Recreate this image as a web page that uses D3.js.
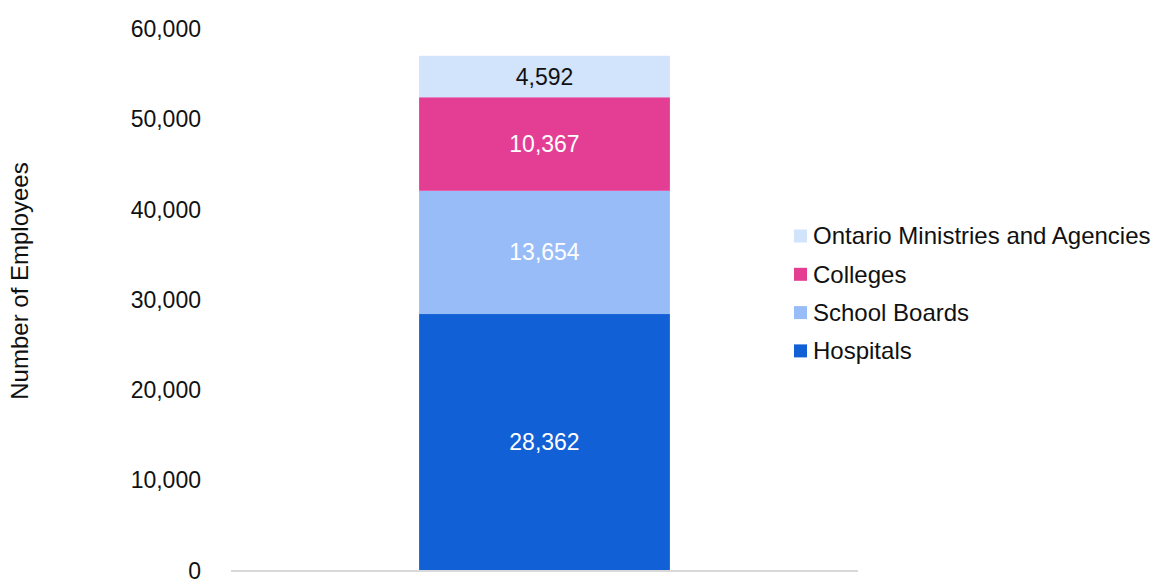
<!DOCTYPE html>
<html>
<head>
<meta charset="utf-8">
<script src="https://cdn.jsdelivr.net/npm/d3@7"></script>
<style>
  html, body { margin: 0; padding: 0; background: #fff; }
  svg { display: block; font-family: "Liberation Sans", Arial, sans-serif; }
  svg text { font-family: "Liberation Sans", Arial, sans-serif; }
</style>
</head>
<body>
<svg id="chart" width="1152" height="579"></svg>
<script>
// Series, bottom to top of the stack
const seriesNames = ["Hospitals", "School Boards", "Colleges", "Ontario Ministries and Agencies"];
const seriesValues = [28362, 13654, 10367, 4592];
const seriesColors = ["#1160d6", "#97bcf7", "#e43d94", "#d2e3fc"];
const labelColors = ["#ffffff", "#ffffff", "#ffffff", "#111111"];
const categories = [""];
const yTicks = [0, 10000, 20000, 30000, 40000, 50000, 60000];

const svg = d3.select("#chart");
const plotLeft = 231, plotRight = 858;

const y = d3.scaleLinear().domain([0, 60000]).range([570, 28.5]);
const x = d3.scaleBand().domain(categories).range([plotLeft, plotRight]).paddingInner(0).paddingOuter(0.75);

// Y axis tick labels (no line, no ticks)
const yAxis = d3.axisLeft(y).tickValues(yTicks).tickFormat(d3.format(",")).tickSize(0).tickPadding(0);
const gAxis = svg.append("g").attr("transform", "translate(201,0)").call(yAxis);
gAxis.select(".domain").remove();
gAxis.selectAll("text")
  .attr("font-size", 23)
  .attr("font-family", null)
  .attr("fill", "#111")
  .attr("dy", "0.35em");
gAxis.attr("font-family", null).attr("font-size", null);

// Y axis title
svg.append("text")
  .attr("transform", "translate(28,281) rotate(-90)")
  .attr("text-anchor", "middle")
  .attr("font-size", 24)
  .attr("fill", "#111")
  .text("Number of Employees");

// Stacked segments
const stackData = [Object.fromEntries(seriesNames.map((n, i) => [n, seriesValues[i]]))];
const stacked = d3.stack().keys(seriesNames)(stackData);

const bw = x.bandwidth();
const x0 = x(categories[0]);

stacked.forEach((layer, i) => {
  const d = layer[0];
  svg.append("rect")
    .attr("x", x0)
    .attr("width", bw)
    .attr("y", y(d[1]))
    .attr("height", y(d[0]) - y(d[1]))
    .attr("fill", seriesColors[i]);
  svg.append("text")
    .attr("x", x0 + bw / 2)
    .attr("y", (y(d[0]) + y(d[1])) / 2)
    .attr("dy", "0.35em")
    .attr("text-anchor", "middle")
    .attr("font-size", 23)
    .attr("fill", labelColors[i])
    .text(d3.format(",")(seriesValues[i]));
});

// Baseline
svg.append("line")
  .attr("x1", plotLeft).attr("x2", plotRight)
  .attr("y1", y(0) + 1).attr("y2", y(0) + 1)
  .attr("stroke", "#d9d9d9").attr("stroke-width", 2);

// Legend, top entry is the top of the stack
const legendOrder = seriesNames.map((n, i) => i).reverse();
const legend = svg.append("g").attr("transform", "translate(794,236)");
legendOrder.forEach((si, row) => {
  const g = legend.append("g").attr("transform", `translate(0,${row * 38.3})`);
  g.append("rect").attr("x", 0).attr("y", -6.5).attr("width", 13).attr("height", 13).attr("fill", seriesColors[si]);
  g.append("text").attr("x", 19).attr("y", 0).attr("dy", "0.35em")
    .attr("font-size", 24).attr("fill", "#111").text(seriesNames[si]);
});
</script>
</body>
</html>
